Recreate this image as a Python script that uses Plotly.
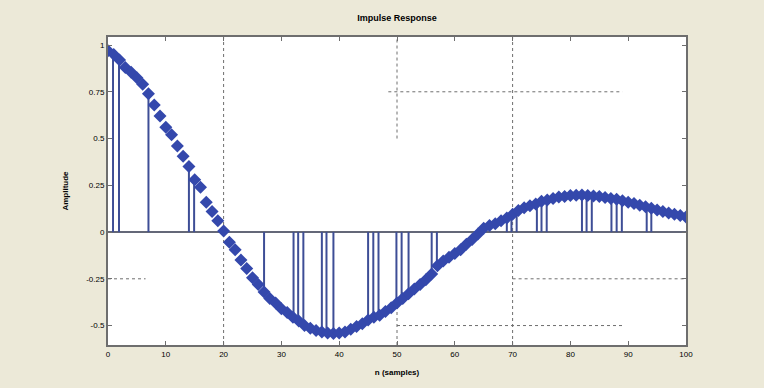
import plotly.graph_objects as go

# ---- data ----
samples = list(range(0, 101))
response = [
    0.97, 0.95, 0.92, 0.88, 0.855, 0.825, 0.79, 0.74, 0.68, 0.62,
    0.56, 0.52, 0.46, 0.405, 0.35, 0.28, 0.24, 0.16, 0.11, 0.06,
    0.005, -0.055, -0.095, -0.15, -0.195, -0.245, -0.28, -0.32, -0.355, -0.38,
    -0.41, -0.43, -0.455, -0.475, -0.5, -0.515, -0.527, -0.535, -0.54, -0.542,
    -0.54, -0.535, -0.52, -0.505, -0.49, -0.47, -0.455, -0.445, -0.425, -0.405,
    -0.38, -0.355, -0.33, -0.305, -0.28, -0.255, -0.225, -0.18, -0.155, -0.135,
    -0.115, -0.095, -0.065, -0.04, -0.01, 0.02, 0.035, 0.045, 0.06, 0.075,
    0.095, 0.115, 0.13, 0.14, 0.15, 0.165, 0.172, 0.18, 0.187, 0.19,
    0.195, 0.197, 0.198, 0.196, 0.193, 0.19, 0.185, 0.18, 0.175, 0.168,
    0.16, 0.152, 0.143, 0.135, 0.127, 0.118, 0.11, 0.102, 0.095, 0.088,
    0.08,
]

# stems that remain visible in the reference
stem_x = [0.87, 1.9, 7.0, 14.0, 14.9,
          27.0, 32.1, 32.9, 33.8, 37.0, 37.8, 39.0,
          45.0, 45.9, 46.8, 49.9, 50.8, 52.0, 56.0, 56.9,
          69.0, 69.8, 70.7, 74.2, 75.0, 75.9, 82.0, 82.8, 83.7,
          87.1, 88.0, 88.9, 93.2, 94.0]
stem_y = [0.95, 0.92, 0.73, 0.35, 0.3,
          -0.32, -0.46, -0.475, -0.49, -0.535, -0.54, -0.54,
          -0.47, -0.455, -0.445, -0.385, -0.36, -0.33, -0.22, -0.18,
          0.073, 0.09, 0.105, 0.15, 0.16, 0.17, 0.195, 0.196, 0.195,
          0.18, 0.175, 0.165, 0.133, 0.127]

x_ticks = [0, 10, 20, 30, 40, 50, 60, 70, 80, 90, 100]
y_ticks = [1, 0.75, 0.5, 0.25, 0, -0.25, -0.5]
y_tick_labels = ["1", "0.75", "0.5", "0.25", "0", "-0.25", "-0.5"]

title_text = "Impulse Response"
x_label = "n (samples)"
y_label = "Amplitude"

# partial grid fragments visible in the reference
grid_v = [(20, -0.604, 1.043), (50, 0.5, 1.043), (50, -0.604, -0.4), (70, -0.604, 1.043)]
grid_h = [(0.75, 48.5, 89), (-0.25, 0, 6.5), (-0.25, 70, 100), (-0.5, 50, 89)]

# ---- figure ----
sx, sy = [], []
for xv, yv in zip(stem_x, stem_y):
    sx += [xv, xv, None]
    sy += [0, yv, None]

fig = go.Figure()
fig.add_trace(go.Scatter(x=sx, y=sy, mode="lines",
                         line=dict(color="rgb(62,78,150)", width=2),
                         hoverinfo="skip", showlegend=False))
fig.add_trace(go.Scatter(x=samples, y=response, mode="markers",
                         marker=dict(symbol="diamond", size=10,
                                     color="rgb(52,72,172)",
                                     line=dict(width=0)),
                         showlegend=False))

shapes = []
for xv, y0, y1 in grid_v:
    shapes.append(dict(type="line", xref="x", yref="y", x0=xv, x1=xv, y0=y0, y1=y1,
                       line=dict(color="rgb(110,110,110)", width=1, dash="dot"), layer="below"))
for yv, x0, x1 in grid_h:
    shapes.append(dict(type="line", xref="x", yref="y", x0=x0, x1=x1, y0=yv, y1=yv,
                       line=dict(color="rgb(110,110,110)", width=1, dash="dot"), layer="below"))
shapes.append(dict(type="line", xref="x", yref="y", x0=0, x1=100, y0=0, y1=0,
                   line=dict(color="rgb(100,104,120)", width=2), layer="below"))

fig.update_layout(
    width=764, height=388,
    margin=dict(l=108, r=78, t=37, b=43),
    paper_bgcolor="rgb(236,233,216)",
    plot_bgcolor="white",
    font=dict(family="Liberation Sans, Arial", size=8, color="black"),
    title=dict(text="<b>" + title_text + "</b>", x=0.5, xref="paper", y=0.955, yref="container",
               xanchor="center", yanchor="middle", font=dict(size=9)),
    shapes=shapes,
    xaxis=dict(range=[0, 100], tickmode="array", tickvals=x_ticks,
               ticks="inside", ticklen=4, tickcolor="rgb(110,110,110)",
               showline=True, linecolor="rgb(110,110,110)", linewidth=2, mirror="ticks",
               showgrid=False, zeroline=False,
               title=dict(text="<b>" + x_label + "</b>", font=dict(size=8), standoff=12)),
    yaxis=dict(range=[-0.604, 1.043], tickmode="array", tickvals=y_ticks, ticktext=y_tick_labels,
               ticks="inside", ticklen=4, tickcolor="rgb(110,110,110)",
               showline=True, linecolor="rgb(110,110,110)", linewidth=2, mirror="ticks",
               showgrid=False, zeroline=False,
               title=dict(text="<b>" + y_label + "</b>", font=dict(size=8), standoff=16)),
)

fig.write_html("out.html")
